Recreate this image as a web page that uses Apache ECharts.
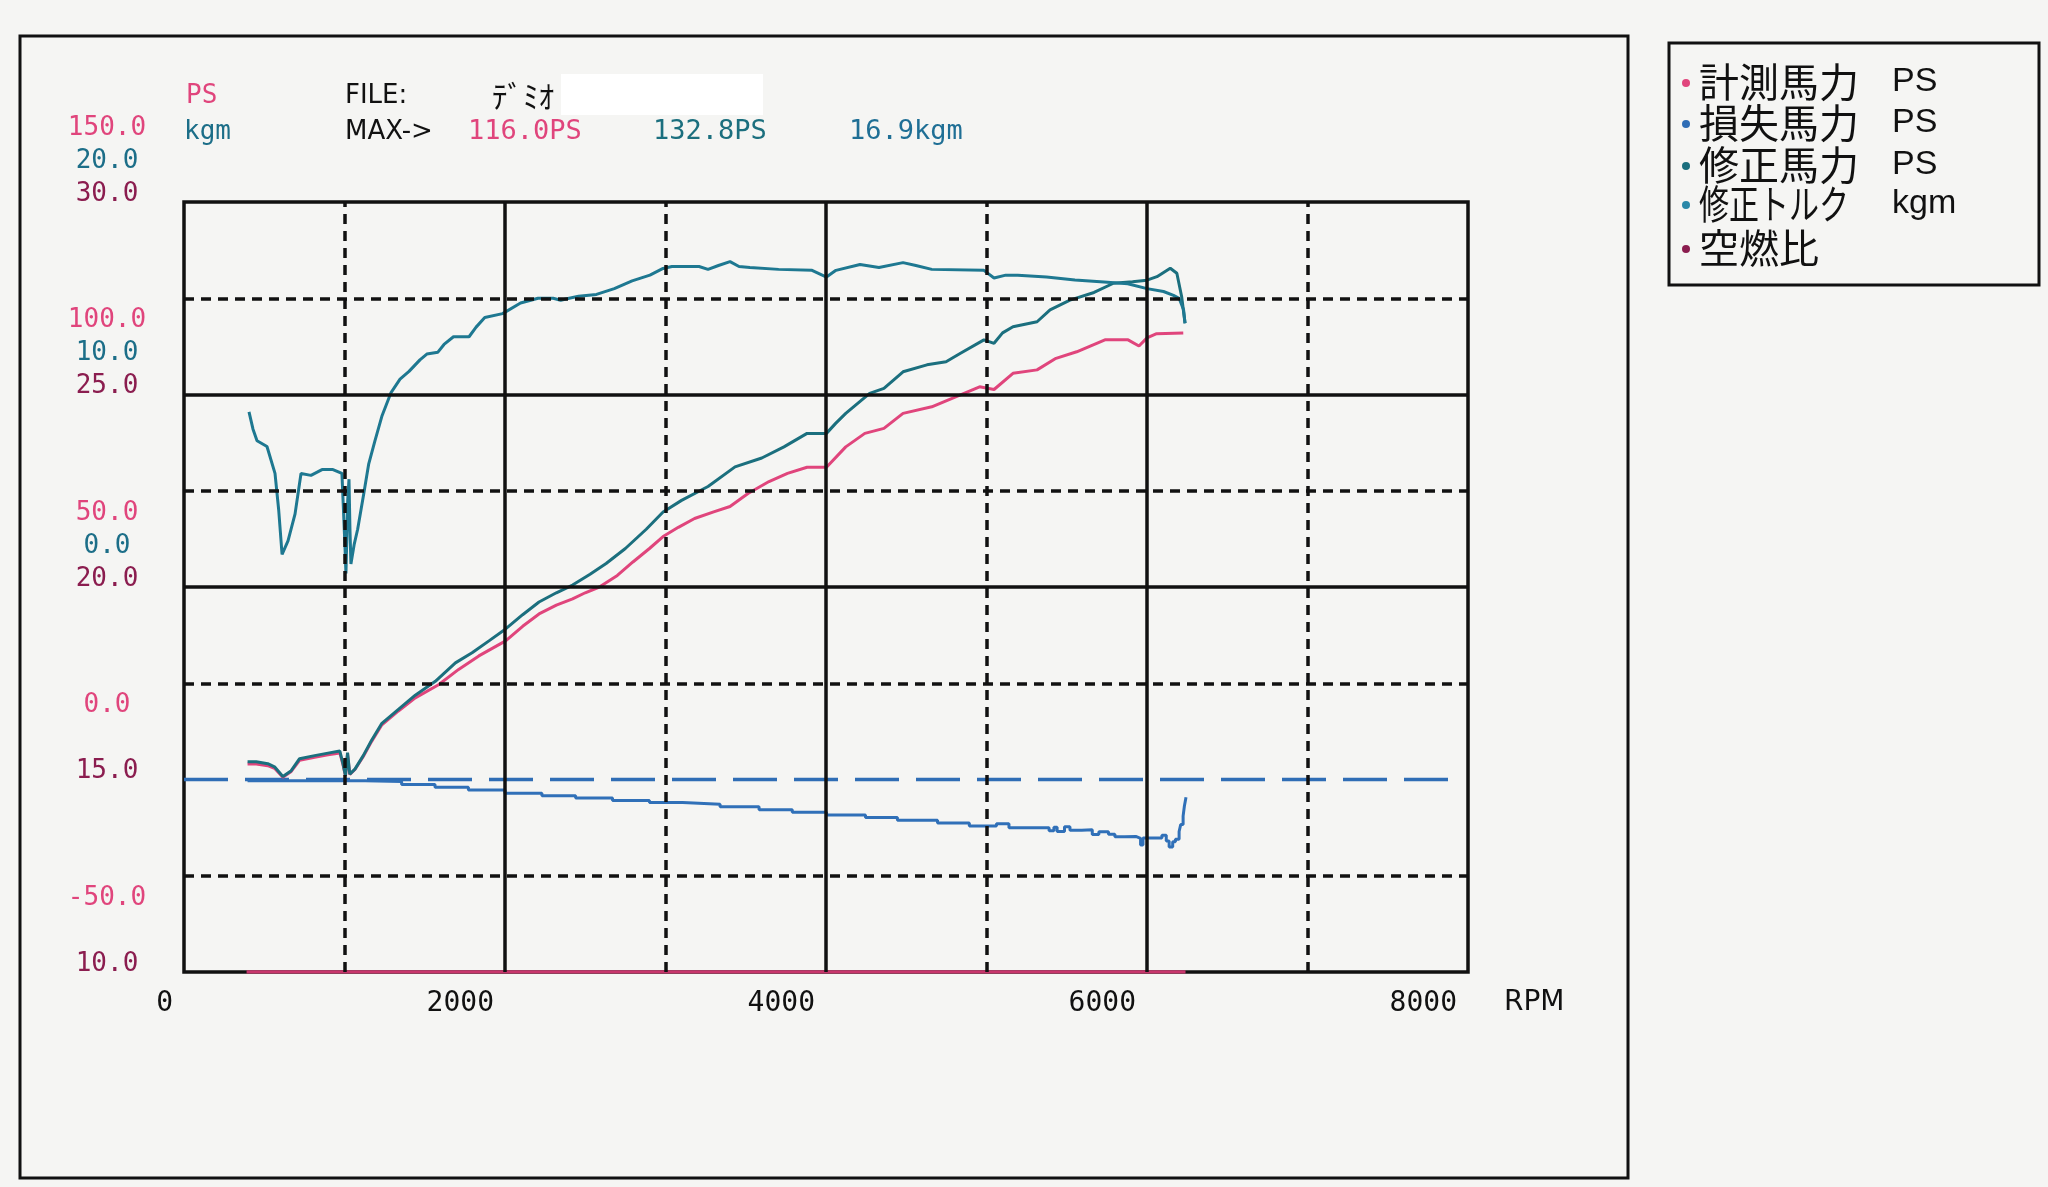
<!DOCTYPE html>
<html><head><meta charset="utf-8">
<script src="https://cdn.jsdelivr.net/npm/echarts@6/dist/echarts.min.js"></script>
<style>html,body{margin:0;padding:0;background:#f5f5f3;}#c{width:2048px;height:1187px;}</style>
</head><body><div id="c"></div><script>
// ---- data ----
const rpmTickValues = [0, 2000, 4000, 6000, 8000];
const rpmTickLabels = ['0', '2000', '4000', '6000', '8000'];
const psTickValues = [-50, 0, 50, 100, 150];
const psTickLabels = ['-50.0', '0.0', '50.0', '100.0', '150.0'];
const kgmTickLabels = [' ', ' ', '0.0', '10.0', '20.0'];
const afrTickLabels = ['10.0', '15.0', '20.0', '25.0', '30.0'];

const solidGridRpm = [2000, 4000, 6000];
const dashedGridRpm = [1000, 3000, 5000, 7000];
const solidGridPS = [50, 100];
const dashedGridPS = [125, 75, 25, -25];
const zeroLinePS = [[0, 0], [7950, 0]];

const measuredPS = [[396,4.0],[450,4.0],[522,3.6],[564,2.9],[616,0.6],[668,2.1],[720,5.0],[814,5.8],[897,6.4],[971,6.9],[991,3.8],[1006,0.9],[1019,6.5],[1033,1.3],[1065,2.6],[1117,6.0],[1169,9.9],[1231,14.1],[1336,17.8],[1441,21.2],[1586,24.6],[1711,28.6],[1837,32.1],[2004,36.0],[2110,39.8],[2212,43.0],[2320,45.3],[2421,46.9],[2500,48.5],[2588,50.0],[2700,53.0],[2797,56.5],[2900,60.0],[2985,63.1],[3080,65.5],[3181,67.8],[3300,69.5],[3402,70.9],[3514,74.3],[3645,77.4],[3760,79.5],[3882,81.1],[4003,81.1],[4123,86.4],[4242,89.9],[4361,91.2],[4480,95.1],[4659,96.8],[4808,99.4],[4957,102.0],[5047,101.3],[5165,105.5],[5315,106.4],[5433,109.4],[5562,111.1],[5738,114.2],[5882,114.2],[5950,112.6],[6000,114.7],[6060,115.8],[6226,116.0]];

const correctedPS = [[396,4.6],[450,4.6],[522,4.1],[564,3.3],[616,0.8],[668,2.3],[720,5.4],[814,6.2],[897,6.85],[971,7.4],[991,4.0],[1006,1.0],[1019,7.0],[1033,1.4],[1065,2.7],[1117,6.2],[1169,10.2],[1231,14.5],[1336,18.2],[1441,21.9],[1566,25.5],[1691,30.3],[1795,32.9],[1900,36.0],[2004,39.1],[2110,42.8],[2212,46.1],[2320,48.5],[2421,50.5],[2530,53.3],[2630,56.1],[2750,60.0],[2880,65.0],[2985,69.5],[3100,72.5],[3265,76.1],[3433,81.2],[3600,83.5],[3738,86.4],[3882,89.9],[4003,89.9],[4060,92.5],[4123,95.1],[4272,100.3],[4361,101.6],[4480,105.9],[4629,107.7],[4748,108.5],[4838,110.7],[4984,114.2],[5047,113.3],[5100,116.0],[5165,117.6],[5315,118.9],[5396,122.0],[5520,124.5],[5670,126.5],[5791,128.9],[5910,129.3],[6000,129.7],[6062,130.6],[6145,132.8],[6186,131.5],[6216,125.4],[6237,118.5]];

const torqueKgm = [[405,9.1],[430,8.2],[455,7.6],[517,7.3],[567,5.9],[590,4.0],[611,1.7],[648,2.4],[692,3.8],[729,5.9],[791,5.8],[860,6.1],[928,6.1],[984,5.9],[1003,2.1],[1009,0.7],[1020,4.5],[1028,5.6],[1034,3.0],[1040,1.2],[1060,2.2],[1082,3.0],[1121,4.9],[1151,6.4],[1190,7.6],[1234,8.9],[1290,10.1],[1346,10.8],[1402,11.2],[1470,11.8],[1513,12.1],[1582,12.2],[1620,12.6],[1679,13.0],[1776,13.0],[1820,13.5],[1874,14.0],[1985,14.2],[2097,14.75],[2206,15.0],[2300,15.0],[2347,14.9],[2400,15.0],[2458,15.1],[2570,15.2],[2681,15.5],[2792,15.9],[2903,16.2],[2985,16.55],[3040,16.65],[3209,16.65],[3265,16.5],[3330,16.7],[3402,16.9],[3458,16.65],[3526,16.6],[3705,16.5],[3913,16.45],[4003,16.1],[4062,16.45],[4212,16.75],[4330,16.6],[4480,16.85],[4560,16.7],[4659,16.5],[4984,16.45],[5047,16.05],[5120,16.2],[5195,16.2],[5374,16.1],[5551,15.95],[5732,15.85],[5880,15.75],[6000,15.5],[6103,15.35],[6165,15.15],[6200,15.0],[6228,14.4],[6237,13.7]];

const lossPS = [[396,-0.3],[877,-0.35],[1128,-0.5],[1356,-1.3],[1564,-2.0],[1772,-2.7],[2000,-3.6],[2230,-4.2],[2440,-4.8],[2670,-5.45],[2900,-6.0],[3107,-6.45],[3340,-7.1],[3583,-7.85],[3790,-8.5],[4003,-9.2],[4246,-9.85],[4445,-10.6],[4695,-11.3],[4893,-12.1],[5062,-11.5],[5140,-12.5],[5390,-13.3],[5420,-12.4],[5440,-13.5],[5486,-12.3],[5520,-13.2],[5593,-13.05],[5659,-14.3],[5700,-13.6],[5760,-14.2],[5800,-14.9],[5860,-14.8],[5930,-15.3],[5960,-17.0],[5975,-15.2],[6060,-15.2],[6093,-14.5],[6120,-16.0],[6138,-17.5],[6160,-16.2],[6177,-15.5],[6200,-13.5],[6210,-11.7],[6225,-9.5],[6233,-6.9],[6243,-4.6]];

const afrRatio = [[390,10.0],[6240,10.0]];

const headerMax = ['116.0PS', '132.8PS', '16.9kgm'];
const legendNames = ['計測馬力', '損失馬力', '修正馬力', '修正トルク', '空燃比'];
const legendUnits = ['PS', 'PS', 'PS', 'kgm', ''];

// ---- styles ----
const PINK = '#e0457c', BLUE = '#3070b8', TEAL = '#1b6f7e', TQ = '#1e7891', MAROON = '#8b1d4f', AFRC = '#c8366c';
const KGMC = '#1c6e88';
const MONO = "'DejaVu Sans Mono', monospace";
const SANS = "'DejaVu Sans', sans-serif";
const LSANS = "'Liberation Sans', Arial, sans-serif";
const CJK = "'Noto Sans CJK JP', sans-serif";
const INK = '#111';
const legendColors = [PINK, '#2f6db5', TEAL, '#2a88a8', MAROON];
const legendScaleX = [1, 1, 1, 0.75, 1];

const gridMarks = [];
solidGridRpm.forEach(v => gridMarks.push({xAxis: v, lineStyle: {type: 'solid', width: 3.5, color: INK}}));
dashedGridRpm.forEach(v => gridMarks.push({xAxis: v, lineStyle: {type: [10, 7], width: 3.5, color: INK}}));
solidGridPS.forEach(v => gridMarks.push({yAxis: v, lineStyle: {type: 'solid', width: 3.5, color: INK}}));
dashedGridPS.forEach(v => gridMarks.push({yAxis: v, lineStyle: {type: [10, 7], width: 3.5, color: INK}}));

const graphic = [
  {type: 'rect', z: -10, shape: {x: 20, y: 36, width: 1608, height: 1142}, style: {fill: 'none', stroke: INK, lineWidth: 3}},
  {type: 'text', x: 186, y: 96, style: {text: 'PS', font: "26px " + MONO, fill: PINK, verticalAlign: 'middle'}},
  {type: 'text', x: 184, y: 132, style: {text: 'kgm', font: "26px " + MONO, fill: KGMC, verticalAlign: 'middle'}},
  {type: 'text', x: 345, y: 96, style: {text: 'FILE:', font: "26px " + SANS, fill: INK, verticalAlign: 'middle'}},
  {type: 'text', x: 492, y: 96, style: {text: 'ﾃﾞﾐｵ', font: "31px " + CJK, fill: INK, verticalAlign: 'middle'}},
  {type: 'rect', shape: {x: 561, y: 74, width: 202, height: 41}, style: {fill: '#ffffff'}},
  {type: 'text', x: 345, y: 132, style: {text: 'MAX->', font: "26px " + SANS, fill: INK, verticalAlign: 'middle'}},
  {type: 'text', x: 468, y: 132, style: {text: headerMax[0], font: "27px " + MONO, fill: PINK, verticalAlign: 'middle'}},
  {type: 'text', x: 653, y: 132, style: {text: headerMax[1], font: "27px " + MONO, fill: TEAL, verticalAlign: 'middle'}},
  {type: 'text', x: 849, y: 132, style: {text: headerMax[2], font: "27px " + MONO, fill: '#1f6f95', verticalAlign: 'middle'}},
  {type: 'text', x: 1504, y: 1003, style: {text: 'RPM', font: "28px " + SANS, fill: INK, verticalAlign: 'middle'}},
  {type: 'rect', shape: {x: 1669, y: 43, width: 370, height: 242}, style: {fill: 'none', stroke: INK, lineWidth: 3}}
];
const rowY = [82, 123, 165, 204, 248];
legendNames.forEach((n, i) => {
  graphic.push({type: 'circle', shape: {cx: 1686, cy: rowY[i] + 1, r: 4}, style: {fill: legendColors[i]}});
  graphic.push({type: 'text', x: 1699, y: rowY[i], scaleX: legendScaleX[i], style: {text: n, font: "40px " + CJK, fill: INK, verticalAlign: 'middle'}});
  if (legendUnits[i]) graphic.push({type: 'text', x: 1892, y: rowY[i], style: {text: legendUnits[i], font: "34px " + LSANS, fill: INK, verticalAlign: 'middle'}});
});

const chart = echarts.init(document.getElementById('c'));
chart.setOption({
  animation: false,
  backgroundColor: '#f5f5f3',
  grid: {left: 184, top: 202, width: 1284, height: 770, show: true, borderColor: INK, borderWidth: 3.5, backgroundColor: 'transparent'},
  xAxis: {
    type: 'value', min: 0, max: 8000, interval: 2000,
    axisLine: {show: false}, axisTick: {show: false}, splitLine: {show: false},
    axisLabel: {fontFamily: MONO, fontSize: 28, color: INK, align: 'right', padding: [0, 11, 0, 0], margin: 18, verticalAlign: 'top',
      formatter: v => rpmTickLabels[rpmTickValues.indexOf(v)]}
  },
  yAxis: [
    {type: 'value', min: -50, max: 150, interval: 50,
      axisLine: {show: false}, axisTick: {show: false}, splitLine: {show: false},
      axisLabel: {align: 'center', margin: 77, padding: [0, 0, 82, 0], fontFamily: MONO, fontSize: 26, lineHeight: 33,
        rich: {
          p: {color: PINK, fontFamily: MONO, fontSize: 26, lineHeight: 33},
          k: {color: KGMC, fontFamily: MONO, fontSize: 26, lineHeight: 33},
          a: {color: MAROON, fontFamily: MONO, fontSize: 26, lineHeight: 33}
        },
        formatter: v => { const i = psTickValues.indexOf(v); return '{p|' + psTickLabels[i] + '}\n{k|' + kgmTickLabels[i] + '}\n{a|' + afrTickLabels[i] + '}'; }
      }},
    {type: 'value', min: -20, max: 20, show: false, splitLine: {show: false}},
    {type: 'value', min: 10, max: 30, show: false, splitLine: {show: false}}
  ],
  graphic: graphic,
  series: [
    {name: 'zero', type: 'line', data: zeroLinePS, yAxisIndex: 0, z: 1, symbol: 'none', silent: true,
      lineStyle: {color: '#2f6db5', width: 3.5, type: [44, 17]},
      markLine: {silent: true, symbol: ['none', 'none'], label: {show: false}, animation: false, data: gridMarks}},
    {name: '空燃比', type: 'line', data: afrRatio, yAxisIndex: 2, z: 4, symbol: 'none', lineStyle: {color: AFRC, width: 3.5}},
    {name: '損失馬力', type: 'line', data: lossPS, yAxisIndex: 0, z: 3, symbol: 'none', step: 'end', lineStyle: {color: BLUE, width: 3}},
    {name: '計測馬力', type: 'line', data: measuredPS, yAxisIndex: 0, z: 3, symbol: 'none', lineStyle: {color: PINK, width: 3}},
    {name: '修正馬力', type: 'line', data: correctedPS, yAxisIndex: 0, z: 3, symbol: 'none', lineStyle: {color: TEAL, width: 3}},
    {name: '修正トルク', type: 'line', data: torqueKgm, yAxisIndex: 1, z: 3, symbol: 'none', lineStyle: {color: TQ, width: 3}}
  ]
});
</script></body></html>
